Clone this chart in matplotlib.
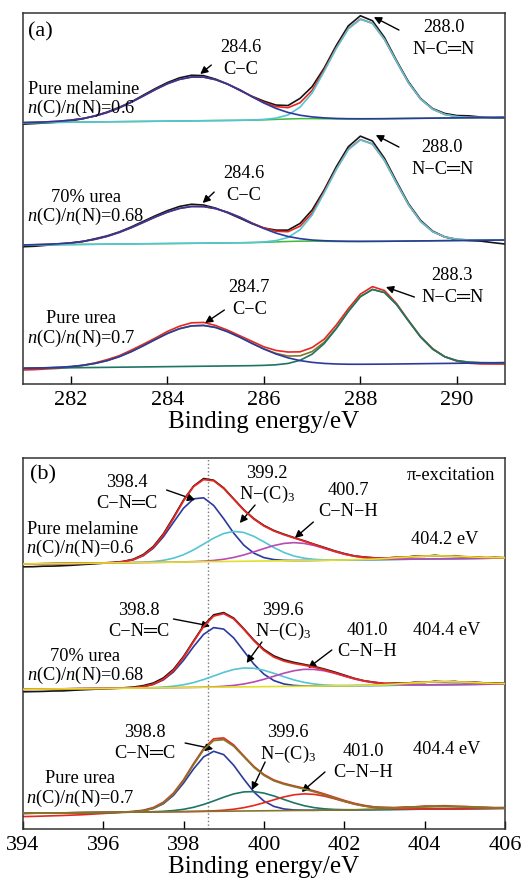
#!/usr/bin/env python3
"""plot.py - C 1s (a) and N 1s (b) XPS fits for melamine / urea derived g-C3N4."""

import matplotlib
matplotlib.use("Agg")
import matplotlib.pyplot as plt
import numpy as np

plt.rcParams["font.family"] = ["Liberation Serif", "DejaVu Sans"]
plt.rcParams["mathtext.fontset"] = "custom"
plt.rcParams["mathtext.rm"] = "Liberation Serif"
plt.rcParams["mathtext.it"] = "Liberation Serif:italic"

STEP = 0.25
E_A = np.linspace(281.0, 291.0, 41)   # C 1s binding energy grid
E_B = np.linspace(394.0, 406.0, 49)   # N 1s binding energy grid

# ---- panel (a): C 1s, a.u. with stack offsets ------------------------------
RAW_A_MEL = [257.9, 258.5, 259.2, 260.0, 261.3, 263.3, 266.3, 270.0, 274.7, 280.1,
             286.9, 293.5, 299.5, 304.2, 306.8, 306.4, 302.9, 297.9, 291.7, 285.8,
             280.9, 277.0, 276.5, 283.7, 295.4, 314.0, 336.5, 356.2, 366.3, 361.3,
             344.6, 321.5, 300.1, 283.5, 273.4, 268.6, 266.5, 266.2, 265.0, 264.1,
             264.2]
RAW_A_U70 = [135.3, 135.8, 136.8, 137.8, 138.9, 140.6, 143.3, 146.2, 150.1, 155.1,
             160.7, 166.3, 171.4, 175.6, 177.8, 177.0, 173.9, 169.2, 163.9, 158.4,
             154.0, 151.9, 151.9, 158.6, 172.0, 192.1, 215.2, 235.3, 245.9, 241.0,
             223.7, 200.5, 178.2, 161.6, 150.9, 145.1, 142.3, 141.5, 140.9, 139.4,
             138.0]
RAW_A_URE = [12.0, 12.4, 13.1, 13.7, 15.0, 16.7, 19.1, 22.4, 26.3, 31.9,
             37.8, 44.0, 50.6, 55.8, 59.2, 59.6, 56.5, 51.8, 46.3, 40.8,
             35.2, 31.6, 30.0, 30.2, 34.5, 42.8, 57.0, 73.3, 87.9, 95.4,
             91.5, 78.5, 61.5, 45.4, 33.4, 25.3, 20.9, 18.8, 18.1, 18.0,
             18.0]
BASE_A = {"mel": (259.3, 264.7), "u70": (137.0, 142.0), "ure": (13.7, 19.3)}

# fitted components: (first energy, heights above background)
CC_MEL = (281.0, [0.1, 0.3, 0.6, 1.1, 2.1, 3.6, 5.9, 9.3, 13.8, 19.3, 25.4, 31.7, 37.4,
                  41.6, 43.8, 43.6, 40.9, 36.3, 30.5, 23.5, 17.0, 11.5, 7.3, 4.4, 2.6,
                  1.5, 0.8, 0.4, 0.2, 0.1])
NCN_MEL = (285.75, [0.2, 0.6, 1.8, 4.8, 12.5, 26.5, 48.0, 70.7, 90.2, 99.7, 95.5, 79.3,
                    57.0, 35.5, 19.2, 9.0, 3.6, 1.3, 0.4, 0.1])
CC_U70 = (281.0, [0.1, 0.2, 0.5, 0.9, 1.7, 3.0, 5.0, 7.8, 11.6, 16.2, 21.4, 26.7, 31.4,
                  35.0, 36.8, 36.6, 34.4, 30.6, 25.6, 19.5, 14.0, 9.3, 5.8, 3.5, 2.0,
                  1.2, 0.7, 0.4, 0.2, 0.1])
NCN_U70 = (285.75, [0.2, 0.6, 1.8, 4.8, 12.5, 27.0, 49.0, 72.1, 92.0, 101.7, 97.4, 80.9,
                    58.1, 36.2, 19.5, 9.1, 3.7, 1.3, 0.4, 0.1])
CC_URE = (281.0, [0.05, 0.13, 0.29, 0.61, 1.2, 2.3, 4.1, 6.7, 10.5, 15.4, 21.2, 27.3,
                  33.2, 37.8, 40.5, 40.8, 38.6, 34.2, 28.6, 22.4, 16.5, 11.4, 7.4, 4.5,
                  2.6, 1.4, 0.7, 0.3, 0.15, 0.06])
NCN_URE = (286.0, [0.17, 0.6, 1.8, 4.8, 10.8, 21.2, 36.0, 53.0, 67.7, 74.8, 71.6, 59.5,
                   42.8, 26.6, 14.4, 6.7, 2.7, 0.95, 0.3, 0.1])
MINOR_A = (286.0, [0.2, 0.5, 0.8, 1.0, 0.9, 0.6, 0.3, 0.1])

# ---- panel (b): N 1s -------------------------------------------------------
RAW_B_MEL = [262.2, 262.3, 262.8, 262.9, 263.3, 263.8, 264.5, 265.1, 265.8, 266.5,
             267.6, 269.8, 274.5, 282.6, 295.2, 311.7, 329.0, 342.9, 350.5, 348.8,
             341.1, 330.1, 319.3, 310.4, 303.6, 298.5, 294.8, 291.4, 288.2, 284.8,
             281.6, 278.3, 275.5, 273.2, 272.0, 271.2, 270.8, 271.6, 271.6, 272.9,
             272.7, 273.7, 272.8, 273.3, 271.9, 272.2, 271.1, 271.6, 271.2]
RAW_B_U70 = [137.2, 137.4, 137.6, 138.0, 138.1, 138.7, 139.2, 139.7, 140.2, 140.7,
             141.2, 141.9, 143.4, 146.0, 151.1, 159.7, 172.5, 188.1, 203.4, 214.2,
             216.4, 210.9, 200.3, 189.0, 179.6, 173.1, 169.2, 166.6, 164.6, 162.6,
             160.0, 157.1, 153.9, 150.7, 148.2, 146.8, 145.4, 145.9, 145.6, 146.7,
             146.5, 147.7, 147.1, 147.6, 146.5, 146.8, 146.1, 146.1, 145.6]
RAW_B_URE = [12.4, 12.6, 12.9, 13.2, 13.5, 13.9, 14.3, 14.9, 15.5, 16.1,
             16.9, 17.6, 18.8, 21.5, 26.8, 35.9, 49.2, 65.4, 80.4, 90.2,
             91.1, 84.0, 73.1, 62.6, 54.5, 49.0, 45.6, 43.1, 40.8, 38.1,
             35.1, 31.8, 28.6, 25.7, 23.6, 22.1, 21.7, 21.4, 22.0, 22.2,
             23.0, 23.0, 23.3, 22.8, 22.6, 22.0, 21.8, 21.4, 21.5]
BASE_B = {"mel": (265.0, 271.0), "u70": (139.7, 145.0), "ure": (15.7, 20.7)}

CNC_MEL = (396.0, [0.09, 0.32, 1.03, 2.84, 6.82, 14.18, 25.5, 39.8, 53.8, 63.05, 63.96,
                   56.2, 42.8, 28.2, 16.1, 7.98, 3.43, 1.27, 0.41, 0.11])
NC3_MEL = (396.75, [0.12, 0.33, 0.85, 1.93, 3.95, 7.26, 11.98, 17.7, 23.5, 28.0, 30.0,
                    28.8, 24.8, 19.2, 13.3, 8.28, 4.62, 2.32, 1.04, 0.42, 0.15, 0.05])
CNH_MEL = (397.75, [0.04, 0.10, 0.26, 0.58, 1.19, 2.27, 3.95, 6.32, 9.26, 12.45, 15.35,
                    17.35, 18.0, 17.1, 14.9, 11.9, 8.76, 5.9, 3.64, 2.06, 1.07, 0.51,
                    0.22, 0.09, 0.03])
PI_MEL = (402.25, [0.15, 0.31, 0.58, 0.97, 1.48, 2.05, 2.56, 2.91, 3.0, 2.80, 2.37,
                   1.82, 1.27, 0.80, 0.46, 0.24])
CNC_U70 = (396.5, [0.12, 0.42, 1.28, 3.42, 7.88, 15.7, 27.2, 40.8, 52.95, 59.6, 58.0,
                   49.0, 35.8, 22.7, 12.5, 5.93, 2.44, 0.87, 0.27, 0.07])
NC3_U70 = (397.0, [0.11, 0.28, 0.67, 1.43, 2.77, 4.87, 7.77, 11.2, 14.7, 17.5, 18.9,
                   18.5, 16.4, 13.2, 9.67, 6.4, 3.85, 2.1, 1.04, 0.46, 0.19, 0.07])
CNH_U70 = (398.25, [0.06, 0.16, 0.37, 0.80, 1.59, 2.89, 4.82, 7.36, 10.3, 13.25, 15.6,
                    16.9, 16.7, 15.2, 12.7, 9.7, 6.8, 4.38, 2.58, 1.40, 0.69, 0.32,
                    0.13, 0.05])
PI_U70 = (402.5, [0.18, 0.36, 0.65, 1.07, 1.59, 2.16, 2.65, 2.95, 2.98, 2.73, 2.27,
                  1.71, 1.17, 0.72, 0.41])
CNC_URE = (396.5, [0.11, 0.39, 1.25, 3.45, 8.12, 16.4, 28.5, 42.6, 54.5, 60.0, 56.6,
                   45.8, 31.9, 19.0, 9.75, 4.29, 1.62, 0.53, 0.15])
NC3_URE = (397.0, [0.08, 0.22, 0.53, 1.16, 2.32, 4.21, 6.94, 10.35, 14.0, 17.2, 19.1,
                   19.3, 17.7, 14.7, 11.1, 7.59, 4.70, 2.63, 1.35, 0.62, 0.26, 0.1])
CNH_URE = (398.25, [0.08, 0.20, 0.47, 0.98, 1.89, 3.33, 5.40, 8.03, 10.9, 13.7, 15.7,
                    16.5, 15.9, 14.1, 11.4, 8.49, 5.79, 3.62, 2.08, 1.09, 0.53, 0.23,
                    0.1])
PI_URE = (402.5, [0.2, 0.38, 0.67, 1.06, 1.52, 1.98, 2.33, 2.5, 2.42, 2.14, 1.71,
                  1.24, 0.81, 0.48, 0.26])

REF_LINE_B = 398.6

# colours
BLACK = "#151515"
RED = "#e8261e"
BLUE = "#2b3a9f"
CYAN = "#55c4d4"
GREEN = "#3dbb3a"
TEAL = "#1d7566"
OLIVE = "#84762a"
MAGENTA = "#b64bb6"
YELLOW = "#e2df2a"

TXT = 13.2


def on_grid(grid, comp):
    start, vals = comp
    out = np.zeros_like(grid)
    i = int(round((start - grid[0]) / STEP))
    out[i:i + len(vals)] = vals
    return out


def background(grid, ends):
    return np.interp(grid, [grid[0], grid[-1]], ends)


def style_axes(ax, xlim, ylim, ticks):
    ax.set_xlim(*xlim)
    ax.set_ylim(*ylim)
    ax.set_xticks(ticks)
    ax.set_yticks([])
    ax.tick_params(axis="x", direction="in", length=6, width=1.0, labelsize=16, pad=5)
    for sp in ax.spines.values():
        sp.set_linewidth(1.1)
        sp.set_color("#333333")
    ax.set_xlabel("Binding energy/eV", fontsize=18, labelpad=1)


def arrow(ax, tail, tip):
    ax.annotate("", xy=tip, xytext=tail,
                arrowprops=dict(arrowstyle="-|>", color="k", lw=1.0,
                                mutation_scale=11, shrinkA=0, shrinkB=0))


def draw_c1s(ax, raw, base, comps, raw_c, env_c, comp_cs, minor=None):
    bg = background(E_A, base)
    ys = [on_grid(E_A, c) for c in comps]
    ax.plot(E_A, raw, color=raw_c, lw=1.2, zorder=2)
    ax.plot(E_A, bg + sum(ys), color=env_c, lw=1.2, zorder=3)
    if minor is not None:
        ax.plot(E_A, bg + on_grid(E_A, minor), color=GREEN, lw=1.1, zorder=3.5)
    for y, c, z in zip(ys, comp_cs, (4.2, 4.0)):
        ax.plot(E_A, bg + y, color=c, lw=1.2, zorder=z)


def draw_n1s(ax, raw, base, comps, pi, raw_c, env_c, comp_cs, base_c):
    bg = background(E_B, base)
    ys = [on_grid(E_B, c) for c in comps]
    ypi = on_grid(E_B, pi)
    ax.plot(E_B, raw, color=raw_c, lw=1.2, zorder=2)
    for y, c in zip(ys, comp_cs):
        ax.plot(E_B, bg + y, color=c, lw=1.2, zorder=3)
    ax.plot(E_B, bg + sum(ys) + ypi, color=env_c, lw=1.3, zorder=4)
    ax.plot(E_B, bg + ypi, color=base_c, lw=1.2, zorder=5)


def label(ax, x, y, s, ha="center"):
    ax.text(x, y, s, fontsize=TXT, ha=ha, va="center", zorder=6)


fig = plt.figure(figsize=(5.26, 8.82), dpi=100)
ax_a = fig.add_axes([0.0432, 0.5646, 0.917, 0.4206])
ax_b = fig.add_axes([0.0432, 0.0601, 0.917, 0.4206])

# ---- (a) ----
draw_c1s(ax_a, RAW_A_MEL, BASE_A["mel"], [CC_MEL, NCN_MEL], BLACK, RED, [BLUE, CYAN], MINOR_A)
draw_c1s(ax_a, RAW_A_U70, BASE_A["u70"], [CC_U70, NCN_U70], BLACK, RED, [BLUE, CYAN], MINOR_A)
draw_c1s(ax_a, RAW_A_URE, BASE_A["ure"], [CC_URE, NCN_URE], RED, OLIVE, [BLUE, TEAL])
style_axes(ax_a, (281, 291), (-2, 369), [282, 284, 286, 288, 290])

ax_a.text(281.11, 350, "(a)", fontsize=16, ha="left", va="center")
cc, ncn = "C\u2212C", "N\u2212C\u2550N"
for num, lab_x, lab_y, tail, tip in [
    ("284.6", 285.52, 335, (284.91, 317), (284.68, 308)),
    ("288.0", 289.73, 355, (288.80, 352), (288.28, 365)),
    ("284.6", 285.59, 209, (284.97, 190), (284.73, 179)),
    ("288.0", 289.70, 235, (288.80, 235), (288.32, 247)),
    ("284.7", 285.70, 95, (285.18, 72), (284.78, 59)),
    ("288.3", 289.91, 107, (289.12, 85), (288.53, 95)),
]:
    label(ax_a, lab_x, lab_y, num)
    label(ax_a, lab_x, lab_y - 22, cc if num.startswith("284") else ncn)
    arrow(ax_a, tail, tip)

label(ax_a, 282.27, 293, "Pure melamine")
label(ax_a, 282.21, 274, "$n$(C)/$n$(N)=0.6")
label(ax_a, 282.31, 185, "70% urea")
label(ax_a, 282.31, 166, "$n$(C)/$n$(N)=0.68")
label(ax_a, 282.21, 64, "Pure urea")
label(ax_a, 282.21, 44, "$n$(C)/$n$(N)=0.7")

# ---- (b) ----
ax_b.axvline(REF_LINE_B, color="#777777", ls=":", lw=1.0, zorder=1)
draw_n1s(ax_b, RAW_B_MEL, BASE_B["mel"], [CNC_MEL, NC3_MEL, CNH_MEL], PI_MEL,
         BLACK, RED, [BLUE, CYAN, MAGENTA], YELLOW)
draw_n1s(ax_b, RAW_B_U70, BASE_B["u70"], [CNC_U70, NC3_U70, CNH_U70], PI_U70,
         BLACK, RED, [BLUE, CYAN, MAGENTA], YELLOW)
draw_n1s(ax_b, RAW_B_URE, BASE_B["ure"], [CNC_URE, NC3_URE, CNH_URE], PI_URE,
         RED, OLIVE, [BLUE, TEAL, RED], OLIVE)
style_axes(ax_b, (394, 406), (0, 371), [394, 396, 398, 400, 402, 404, 406])

ax_b.text(394.18, 354, "(b)", fontsize=16, ha="left", va="center")
ax_b.text(405.75, 354, "\u03c0-excitation", fontsize=TXT, ha="right", va="center")

cnc, nc3, cnh = "C\u2212N\u2550C", "N\u2212(C)$_3$", "C\u2212N\u2212H"
for (num, lx, ly), bond, (tail, tip) in [
    (("398.4", 396.59, 347), cnc, ((397.58, 339), (398.29, 329))),
    (("399.2", 400.07, 356), nc3, ((399.78, 324), (399.40, 306))),
    (("400.7", 402.10, 339), cnh, ((401.23, 307), (400.77, 291))),
    (("398.8", 396.90, 219), cnc, ((397.75, 210), (398.66, 203))),
    (("399.6", 400.48, 219), nc3, ((399.95, 187), (399.57, 166))),
    (("401.0", 402.58, 199), cnh, ((401.69, 179), (401.10, 161))),
    (("398.8", 397.04, 96), cnc, ((398.04, 86), (398.74, 80))),
    (("399.6", 400.60, 96), nc3, ((400.03, 67), (399.70, 39))),
    (("401.0", 402.47, 77), cnh, ((401.52, 57), (400.94, 37))),
]:
    label(ax_b, lx, ly, num)
    label(ax_b, lx, ly - 21, bond)
    arrow(ax_b, tail, tip)

label(ax_b, 404.5, 290, "404.2 eV")
label(ax_b, 404.55, 199, "404.4 eV")
label(ax_b, 404.55, 79, "404.4 eV")

label(ax_b, 395.5, 300, "Pure melamine")
label(ax_b, 395.43, 281, "$n$(C)/$n$(N)=0.6")
label(ax_b, 395.55, 173, "70% urea")
label(ax_b, 395.57, 154, "$n$(C)/$n$(N)=0.68")
label(ax_b, 395.43, 50, "Pure urea")
label(ax_b, 395.43, 31, "$n$(C)/$n$(N)=0.7")

fig.savefig("out.png", dpi=100, facecolor="white")
